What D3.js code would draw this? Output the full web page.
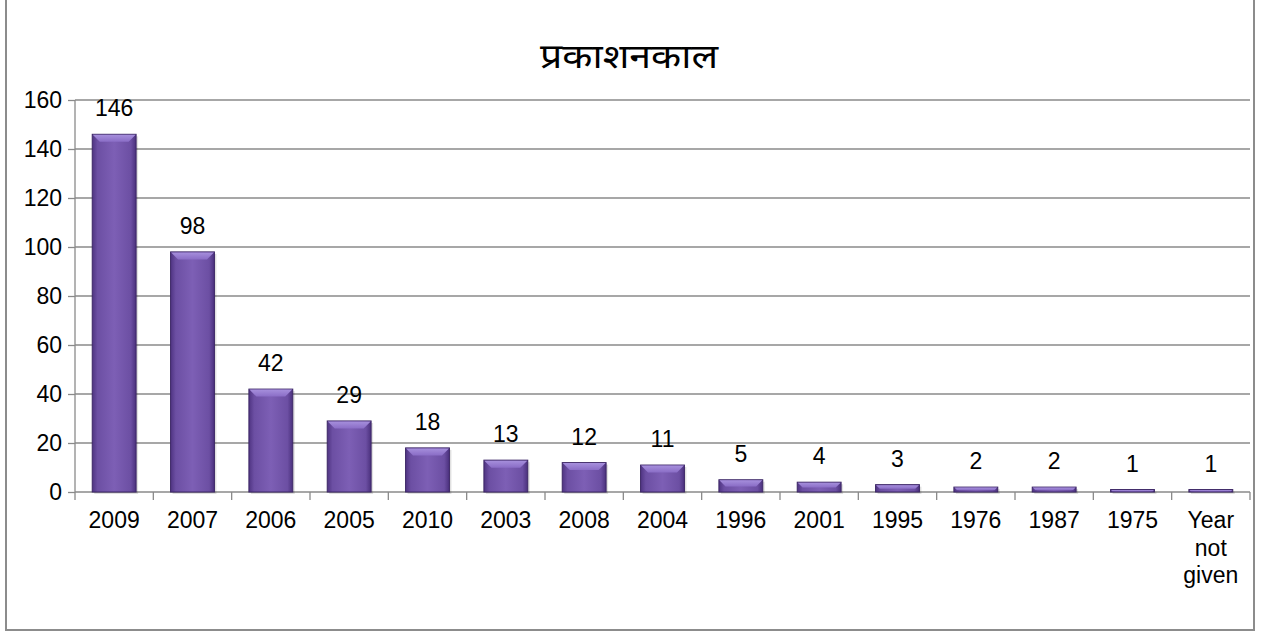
<!DOCTYPE html>
<html><head><meta charset="utf-8">
<script src="https://cdn.jsdelivr.net/npm/d3@7"></script>
<style>body{margin:0;background:#fff}svg{display:block}text{font-family:"Liberation Sans","Noto Sans",sans-serif}</style>
</head><body>
<svg id="c" width="1265" height="632"></svg>
<script>
const categories = ["2009","2007","2006","2005","2010","2003","2008","2004","1996","2001","1995","1976","1987","1975","Year not given"];
const values = [146,98,42,29,18,13,12,11,5,4,3,2,2,1,1];
const yTicks = [0,20,40,60,80,100,120,140,160];
const title = "प्रकाशनकाल";

const svg = d3.select("#c");
const m = {l:75, r:1250, t:100, b:492};

svg.append("rect").attr("x",6).attr("y",-3).attr("width",1248).attr("height",633)
  .attr("fill","#fff").attr("stroke","#8c8c8c").attr("stroke-width",2);

const x = d3.scaleBand().domain(categories).range([m.l, m.r]).paddingInner(0.44).paddingOuter(0.22);
const y = d3.scaleLinear().domain([0,160]).range([m.b, m.t]);

const defs = svg.append("defs");
const g1 = defs.append("linearGradient").attr("id","face").attr("x1","0").attr("x2","1").attr("y1","0").attr("y2","0");
[[0,"#4f3482"],[0.12,"#6c4fa3"],[0.5,"#7d5fb5"],[0.88,"#6c4fa3"],[1,"#4a307c"]].forEach(s=>g1.append("stop").attr("offset",s[0]).attr("stop-color",s[1]));
const g2 = defs.append("linearGradient").attr("id","bev").attr("x1","0").attr("x2","0").attr("y1","0").attr("y2","1");
[[0,"#a68fdc"],[1,"#8a6dc6"]].forEach(s=>g2.append("stop").attr("offset",s[0]).attr("stop-color",s[1]));

// gridlines
svg.append("g").selectAll("line").data(yTicks.filter(d=>d>0)).join("line")
  .attr("x1",m.l).attr("x2",m.r).attr("y1",d=>y(d)).attr("y2",d=>y(d))
  .attr("stroke","#8a8a8a").attr("stroke-width",1.3);

// y axis
const ya = svg.append("g").attr("transform",`translate(${m.l},0)`)
  .call(d3.axisLeft(y).tickValues(yTicks).tickSize(7).tickPadding(6));
ya.select(".domain").attr("stroke","#8a8a8a").attr("stroke-width",1.3).attr("d",`M-0,${m.t}V${m.b}`);
ya.selectAll(".tick line").attr("stroke","#8a8a8a").attr("stroke-width",1.3);
ya.selectAll(".tick text").attr("font-size",23).attr("fill","#000").attr("font-family","Liberation Sans, sans-serif");

// x axis
const xa = svg.append("g").attr("transform",`translate(0,${m.b})`)
  .call(d3.axisBottom(x).tickSize(0).tickFormat(""));
xa.select(".domain").attr("stroke","#8a8a8a").attr("stroke-width",1.3).attr("d",`M${m.l},0H${m.r}`);
const bounds = d3.range(categories.length+1).map(i=>m.l + i*(m.r-m.l)/categories.length);
svg.append("g").selectAll("line").data(bounds).join("line")
  .attr("x1",d=>d).attr("x2",d=>d).attr("y1",m.b).attr("y2",m.b+8)
  .attr("stroke","#8a8a8a").attr("stroke-width",1.3);

// x labels
const xl = svg.append("g").selectAll("text").data(categories).join("text")
  .attr("x",d=>x(d)+x.bandwidth()/2).attr("y",528)
  .attr("text-anchor","middle").attr("font-size",23).attr("fill","#000");
xl.each(function(d){
  const words = d.split(" ");
  const t = d3.select(this);
  if(words.length===1){ t.text(d); }
  else words.forEach((w,i)=>t.append("tspan").attr("x",x(d)+x.bandwidth()/2).attr("dy",i?27.5:0).text(w));
});

// bars
const bw = x.bandwidth();
const data = categories.map((c,i)=>({c,v:values[i]}));
const bars = svg.append("g").selectAll("g").data(data).join("g");
bars.append("rect").attr("x",d=>x(d.c)+2).attr("y",d=>y(d.v)+2).attr("width",bw).attr("height",d=>m.b-y(d.v))
  .attr("fill","#000").attr("opacity",0.12);
bars.append("rect").attr("x",d=>x(d.c)).attr("y",d=>y(d.v)).attr("width",bw).attr("height",d=>m.b-y(d.v))
  .attr("fill","url(#face)").attr("stroke","#3d2766").attr("stroke-width",1);
bars.append("path").attr("d",d=>{
  const x0=x(d.c)+0.5, x1=x0+bw-1, y0=y(d.v)+0.5, h=Math.min(7,(m.b-y(d.v))/2);
  return `M${x0},${y0}H${x1}L${x1-h},${y0+h}H${x0+h}Z`;
}).attr("fill","url(#bev)");

// value labels
svg.append("g").selectAll("text").data(data).join("text")
  .attr("x",d=>x(d.c)+bw/2).attr("y",d=>y(d.v)-18)
  .attr("text-anchor","middle").attr("font-size",23).attr("fill","#000").text(d=>d.v);

// title
svg.append("text").attr("x",629).attr("y",68).attr("text-anchor","middle")
  .attr("font-size",34).attr("fill","#000").attr("font-weight",400)
  .attr("textLength",178).attr("lengthAdjust","spacingAndGlyphs")
  .attr("font-family","'Noto Sans','Noto Sans Devanagari','Lohit Devanagari','FreeSans',sans-serif").text(title);
</script>
</body></html>
